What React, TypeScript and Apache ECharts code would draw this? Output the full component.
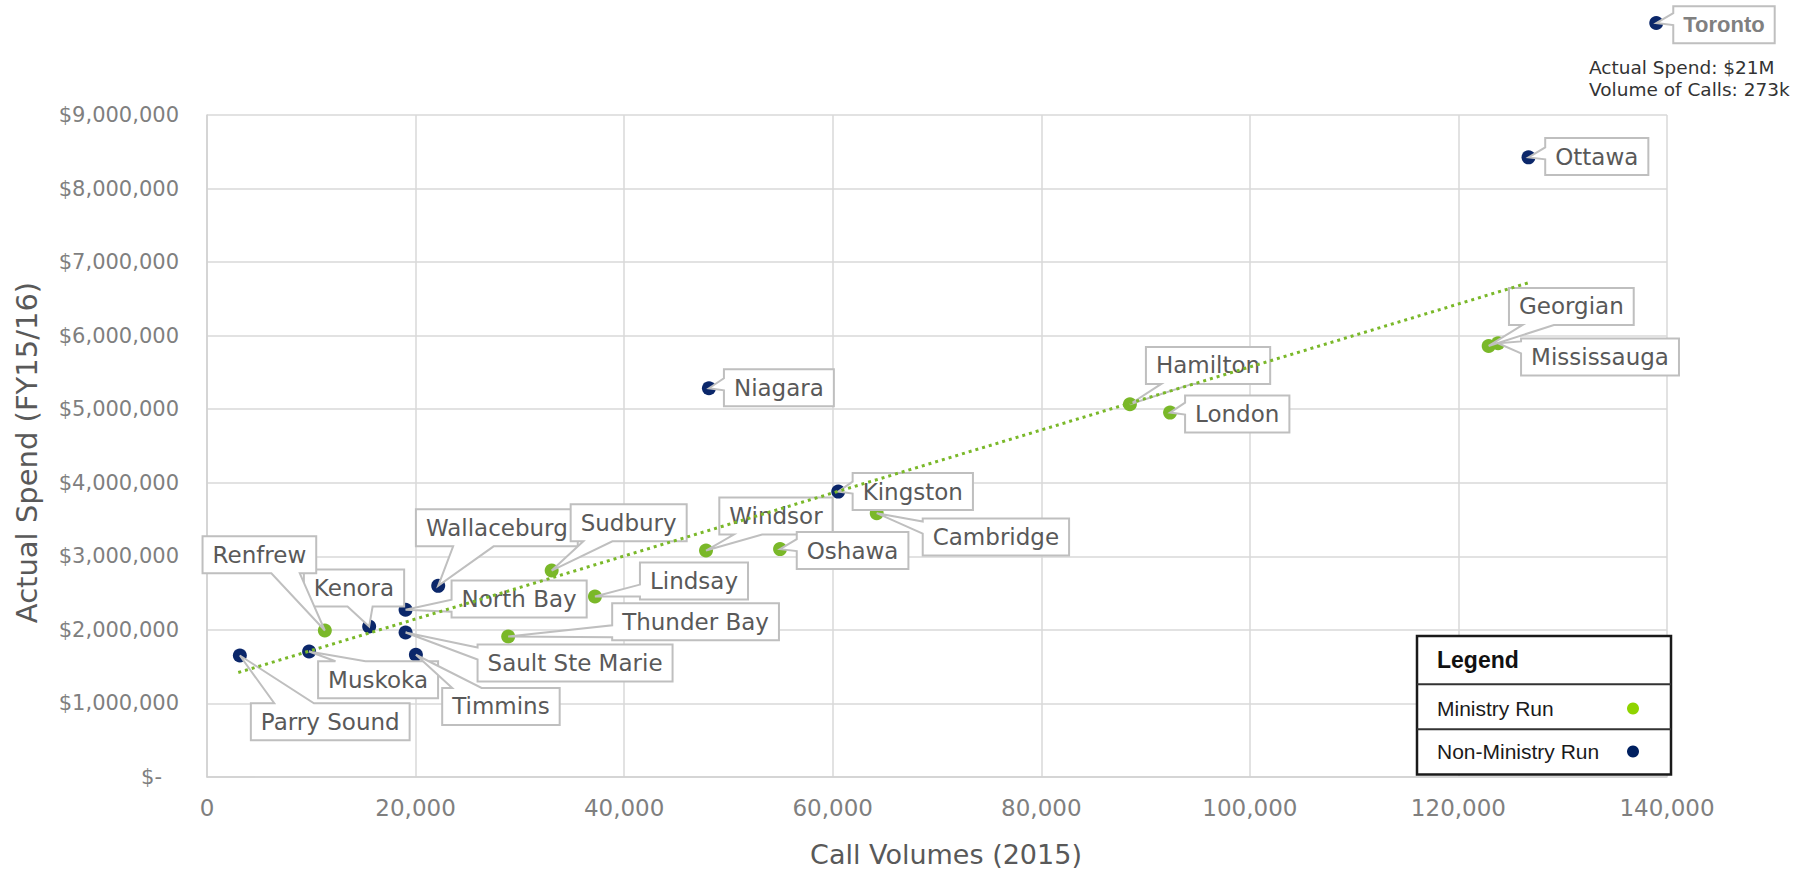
import React, { useEffect, useRef } from 'react';
import * as echarts from 'echarts';

// ---- Data -----------------------------------------------------------------

// Ministry-run sites
const ministryNames = ['Renfrew', 'Thunder Bay', 'Sudbury', 'Lindsay', 'Windsor', 'Oshawa', 'Cambridge', 'Hamilton', 'London', 'Georgian', 'Mississauga'];
const ministryCalls = [11300, 28880, 33050, 37200, 47850, 54950, 64220, 88500, 92350, 122900, 123800];
const ministrySpend = [1992000, 1910000, 2807000, 2454000, 3079000, 3098000, 3587000, 5068000, 4954000, 5860000, 5897000];

// Sites not run by the ministry
const nonMinistryNames = ['Parry Sound', 'Muskoka', 'Kenora', 'North Bay', 'Sault Ste Marie', 'Timmins', 'Wallaceburg', 'Niagara', 'Kingston', 'Ottawa'];
const nonMinistryCalls = [3150, 9790, 15550, 19040, 19040, 20030, 22170, 48130, 60530, 126720];
const nonMinistrySpend = [1652000, 1707000, 2046000, 2273000, 1965000, 1662000, 2599000, 5285000, 3880000, 8424000];

// Toronto is far off both scales: its real figures go in a note, and its
// marker is pinned just past the top-right corner of the plot.
const torontoName = 'Toronto';
const torontoCalls = 273000;
const torontoSpend = 21000000;
const torontoMarker = [138970, 10250000];

// Linear trend line endpoints
const trendCalls = [3000, 126750];
const trendSpend = [1420000, 6720000];

// Axis ranges
const xMin = 0, xMax = 140000, xStep = 20000;
const yMin = 0, yMax = 9000000, yStep = 1000000;

const seriesNames = ['Ministry Run', 'Non-Ministry Run'];
const xTitle = 'Call Volumes (2015)';
const yTitle = 'Actual Spend (FY15/16)';
const legendTitle = 'Legend';

// ---- Styling / layout -----------------------------------------------------

const SANS = "'DejaVu Sans', Verdana, sans-serif";
const ARIAL = "'Liberation Sans', Arial, sans-serif";
const GREEN = '#7ab829';
const NAVY = '#0b276a';
const LEGEND_GREEN = '#8fd400';
const LEGEND_NAVY = '#002060';

// Callout placement: [box left relative to point x, box centre relative to point y], px
const calloutLayout: Record<string, [number, number]> = {
  Toronto: [17, 1.6],
  Ottawa: [16.7, -0.8],
  Niagara: [15, -0.6],
  Kingston: [14.4, 0],
  Cambridge: [46, 23.9],
  Oshawa: [16.7, 1.5],
  Windsor: [13.3, -34.5],
  Sudbury: [19, -47.7],
  Wallaceburg: [-22.3, -58],
  Lindsay: [45, -15.4],
  'Thunder Bay': [104, -14.7],
  'Sault Ste Marie': [72, 30.6],
  'North Bay': [46, -10.8],
  Kenora: [-65.3, -38.4],
  Renfrew: [-122.3, -75.7],
  Muskoka: [9, 28.3],
  Timmins: [26.3, 51.7],
  'Parry Sound': [11, 66.3],
  Hamilton: [16, -38.8],
  London: [15, 1.3],
  Georgian: [20.3, -39.5],
  Mississauga: [23, 13.7],
};

let measureCtx: CanvasRenderingContext2D | null = null;
function textWidth(text: string, font: string): number {
  if (!measureCtx) measureCtx = document.createElement('canvas').getContext('2d');
  if (!measureCtx) return text.length * 12;
  measureCtx.font = font;
  return measureCtx.measureText(text).width;
}

function withCommas(v: number): string {
  return String(Math.round(v)).replace(/\B(?=(\d{3})+(?!\d))/g, ',');
}

function buildOption(): echarts.EChartsOption {
  const ministryData = ministryNames.map((n, i) => ({ name: n, value: [ministryCalls[i], ministrySpend[i]] }));
  const nonMinistryData = nonMinistryNames.map((n, i) => ({ name: n, value: [nonMinistryCalls[i], nonMinistrySpend[i]] }));
  nonMinistryData.push({ name: torontoName, value: torontoMarker });

  // Non-ministry callouts first so the later ones sit on top where boxes overlap
  const callouts = [...nonMinistryData, ...ministryData];

  const renderCallout = (params: any, api: any) => {
    const name = callouts[params.dataIndex].name;
    const p = api.coord([api.value(0), api.value(1)]);
    const px = p[0], py = p[1];
    const special = name === torontoName;
    const fontSize = special ? 22 : 23;
    const fontFamily = special ? ARIAL : SANS;
    const fontWeight = special ? 'bold' : 'normal';
    const tw = textWidth(name, `${fontWeight} ${fontSize}px ${fontFamily}`);
    const w = tw + 20;
    const h = 37;
    const off = calloutLayout[name] || [15, 0];
    const l = px + off[0];
    const t = py + off[1] - h / 2;
    const r = l + w;
    const b = t + h;

    const ox = px < l ? l - px : px > r ? px - r : 0;
    const oy = py < t ? t - py : py > b ? py - b : 0;
    const tip = [px, py];
    let points: number[][];
    if (ox >= oy) {
      const bw = 12;
      let c = py - 4;
      c = Math.min(b - bw / 2 - 3, Math.max(t + bw / 2 + 3, c));
      if (px < l) {
        points = [[l, t], [r, t], [r, b], [l, b], [l, c + bw / 2], tip, [l, c - bw / 2]];
      } else {
        points = [[l, t], [r, t], [r, c - bw / 2], tip, [r, c + bw / 2], [r, b], [l, b]];
      }
    } else {
      const bw = Math.min(42, Math.max(16, w * 0.25));
      const mid = (l + r) / 2;
      let c = px + 0.6 * (mid - px);
      c = Math.min(r - bw / 2 - 4, Math.max(l + bw / 2 + 4, c));
      if (py < t) {
        points = [[l, t], [c - bw / 2, t], tip, [c + bw / 2, t], [r, t], [r, b], [l, b]];
      } else {
        points = [[l, t], [r, t], [r, b], [c + bw / 2, b], tip, [c - bw / 2, b], [l, b]];
      }
    }

    return {
      type: 'group',
      children: [
        {
          type: 'polygon',
          shape: { points },
          style: { fill: '#ffffff', stroke: '#bfbfbf', lineWidth: 2 },
        },
        {
          type: 'text',
          style: {
            text: name,
            x: (l + r) / 2,
            y: (t + b) / 2,
            align: 'center',
            verticalAlign: 'middle',
            fontSize,
            fontFamily,
            fontWeight,
            fill: special ? '#808080' : '#595959',
          },
        },
      ],
    };
  };

  const note = `Actual Spend: $${torontoSpend / 1000000}M\nVolume of Calls: ${torontoCalls / 1000}k`;

  return {
    animation: false,
    backgroundColor: '#ffffff',
    grid: { left: 207, right: 135, top: 115, bottom: 96 },
    xAxis: {
      type: 'value',
      min: xMin,
      max: xMax,
      interval: xStep,
      name: xTitle,
      nameLocation: 'middle',
      nameGap: 64,
      nameTextStyle: { fontFamily: SANS, fontSize: 27, color: '#595959', padding: [0, 0, 0, 18] },
      axisLine: { lineStyle: { color: '#d0d0d0', width: 1.5 } },
      axisTick: { show: false },
      splitLine: { lineStyle: { color: '#d9d9d9', width: 1.5 } },
      axisLabel: {
        fontFamily: SANS,
        fontSize: 23,
        color: '#7f7f7f',
        margin: 19,
        formatter: (v: number) => withCommas(v),
      },
    },
    yAxis: {
      type: 'value',
      min: yMin,
      max: yMax,
      interval: yStep,
      name: yTitle,
      nameLocation: 'middle',
      nameRotate: 90,
      nameGap: 166,
      nameTextStyle: { fontFamily: SANS, fontSize: 29, color: '#595959', padding: [0, 13, 0, 0] },
      axisLine: { show: true, lineStyle: { color: '#d0d0d0', width: 1.5 } },
      axisTick: { show: false },
      splitLine: { lineStyle: { color: '#d9d9d9', width: 1.5 } },
      axisLabel: {
        fontFamily: SANS,
        fontSize: 21,
        color: '#7f7f7f',
        margin: 28,
        formatter: (v: number) => (v === 0 ? '{z|$-}' : '$' + withCommas(v)),
        rich: {
          z: { fontFamily: SANS, fontSize: 21, color: '#7f7f7f', padding: [0, 17, 0, 0] },
        },
      },
    },
    legend: {
      data: [
        { name: seriesNames[0], itemStyle: { color: LEGEND_GREEN } },
        { name: seriesNames[1], itemStyle: { color: LEGEND_NAVY } },
      ],
      orient: 'vertical',
      left: 1432,
      top: 693,
      align: 'right',
      icon: 'circle',
      itemWidth: 12,
      itemHeight: 12,
      itemGap: 22,
      selectedMode: false,
      z: 8,
      formatter: (n: string) => `{t|${n}}`,
      textStyle: {
        rich: {
          t: { width: 185, align: 'left', fontFamily: ARIAL, fontSize: 21, color: '#1a1a1a', lineHeight: 24 },
        },
      },
    },
    graphic: [
      {
        type: 'rect',
        z: 6,
        shape: { x: 1417, y: 636, width: 254, height: 138.5 },
        style: { fill: '#ffffff', stroke: '#1a1a1a', lineWidth: 2.5 },
      },
      {
        type: 'line',
        z: 7,
        shape: { x1: 1417, y1: 684.3, x2: 1671, y2: 684.3 },
        style: { stroke: '#333333', lineWidth: 2 },
      },
      {
        type: 'line',
        z: 7,
        shape: { x1: 1417, y1: 729.3, x2: 1671, y2: 729.3 },
        style: { stroke: '#333333', lineWidth: 2 },
      },
      {
        type: 'text',
        z: 7,
        x: 1437,
        y: 660,
        style: { text: legendTitle, fontFamily: ARIAL, fontWeight: 'bold', fontSize: 23, fill: '#111111', verticalAlign: 'middle' },
      },
      {
        type: 'text',
        z: 7,
        x: 1589,
        y: 56,
        style: { text: note, fontFamily: SANS, fontSize: 18.5, lineHeight: 22, fill: '#333333', verticalAlign: 'top' },
      },
    ],
    series: [
      {
        type: 'scatter',
        name: seriesNames[0],
        data: ministryData,
        symbolSize: 14,
        itemStyle: { color: GREEN, opacity: 1 },
        z: 2,
        silent: true,
      },
      {
        type: 'scatter',
        name: seriesNames[1],
        data: nonMinistryData,
        symbolSize: 14,
        itemStyle: { color: NAVY, opacity: 1 },
        clip: false,
        z: 2,
        silent: true,
      },
      {
        type: 'custom',
        name: 'callouts',
        data: callouts.map((d) => ({ name: d.name, value: d.value })),
        encode: { x: 0, y: 1 },
        renderItem: renderCallout as any,
        clip: false,
        z: 3,
        silent: true,
      },
      {
        type: 'line',
        name: 'trend',
        data: trendCalls.map((c, i) => [c, trendSpend[i]]),
        symbol: 'none',
        lineStyle: { color: GREEN, width: 3, type: [3, 4] },
        z: 4,
        silent: true,
      },
    ],
  } as echarts.EChartsOption;
}

export default function App() {
  const ref = useRef<HTMLDivElement>(null);
  useEffect(() => {
    if (!ref.current) return;
    const chart = echarts.init(ref.current, null, { renderer: 'svg' });
    chart.setOption(buildOption());
    return () => chart.dispose();
  }, []);
  return (
    <div
      ref={ref}
      style={{ position: 'fixed', left: 0, top: 0, width: 1802, height: 873, background: '#ffffff' }}
    />
  );
}
